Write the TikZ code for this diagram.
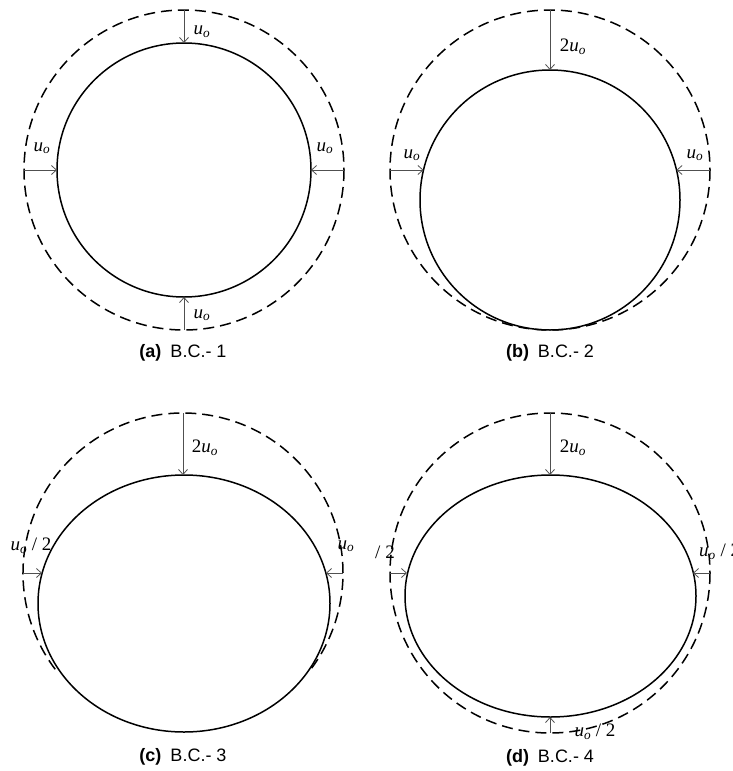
\documentclass[tikz,border=0pt]{standalone}
\usepackage{fontspec}
\setsansfont{Liberation Sans}
\newfontfamily\timesfont{Liberation Serif}
\usetikzlibrary{arrows.meta,calc}
\definecolor{ArrowGrey}{HTML}{505050}
\newcommand{\uo}{\textit{u}\textsubscript{\textit{o}}}
\tikzset{
  lining/.style={draw=black,line width=1.5pt},
  ground/.style={draw=black,line width=1.5pt,dash pattern=on 11pt off 6pt},
  dispflow/.style={-{Straight Barb[length=5pt,width=9pt]},draw=ArrowGrey,line width=0.8pt},
  ulabel/.style={font=\timesfont\fontsize{19}{19}\selectfont,inner sep=0pt},
  caption/.style={font=\sffamily\fontsize{18}{18}\selectfont,inner sep=0pt}
}

\begin{document}
\begin{tikzpicture}[x=1pt,y=-1pt]
  \useasboundingbox (0,0) rectangle (732,771);

  % (a) uniform convergence
  \draw[ground] (184,170) circle[radius=160];
  \draw[lining] (184,170) circle[radius=127];
  \coordinate (a-top-o) at (184,10);   \coordinate (a-top-i) at (184,43);
  \coordinate (a-bot-o) at (184,330);  \coordinate (a-bot-i) at (184,297);
  \coordinate (a-lft-o) at (24,170);   \coordinate (a-lft-i) at (57,170);
  \coordinate (a-rgt-o) at (344,170);  \coordinate (a-rgt-i) at (311,170);
  \draw[dispflow] (a-top-o) -- (a-top-i);
  \draw[dispflow] (a-bot-o) -- (a-bot-i);
  \draw[dispflow] (a-lft-o) -- (a-lft-i);
  \draw[dispflow] (a-rgt-o) -- (a-rgt-i);
  \node[ulabel] (a-top-l) at (202,32) {\uo};
  \node[ulabel] (a-lft-l) at (42,148) {\uo};
  \node[ulabel] (a-rgt-l) at (325,148) {\uo};
  \node[ulabel] (a-bot-l) at (202,315) {\uo};
  \node[caption] (a-cap) at (183,353) {\textbf{(a)}\enspace B.C.- 1};

  % (b) crown settlement, invert fixed
  \draw[ground] (550,170) circle[radius=160];
  \draw[lining] (550,200) circle[radius=130];
  \coordinate (b-top-o) at (550,10);   \coordinate (b-top-i) at (550,70);
  \coordinate (b-lft-o) at (390,170);  \coordinate (b-lft-i) at (423.5,170);
  \coordinate (b-rgt-o) at (710,170);  \coordinate (b-rgt-i) at (676.5,170);
  \draw[dispflow] (b-top-o) -- (b-top-i);
  \draw[dispflow] (b-lft-o) -- (b-lft-i);
  \draw[dispflow] (b-rgt-o) -- (b-rgt-i);
  \node[ulabel] (b-top-l) at (573,47) {2\uo};
  \node[ulabel] (b-lft-l) at (412,155) {\uo};
  \node[ulabel] (b-rgt-l) at (695,155) {\uo};
  \node[caption] (b-cap) at (550,353) {\textbf{(b)}\enspace B.C.- 2};

  % (c) ovalling, invert fixed
  \draw[ground] (183,573) ++(143:160) arc[start angle=143,end angle=397,radius=160];
  \draw[lining] (184,603.5) ellipse[x radius=146,y radius=128.5];
  \coordinate (c-top-o) at (183,413);  \coordinate (c-top-i) at (183,475);
  \coordinate (c-lft-o) at (23,573);   \coordinate (c-lft-i) at (42,573);
  \coordinate (c-rgt-o) at (343,573);  \coordinate (c-rgt-i) at (326,573);
  \draw[dispflow] (c-top-o) -- (c-top-i);
  \draw[dispflow] (c-lft-o) -- (c-lft-i);
  \draw[dispflow] (c-rgt-o) -- (c-rgt-i);
  \node[ulabel] (c-top-l) at (205,448) {2\uo};
  \node[ulabel] (c-lft-l) at (31,546) {\uo{} / 2};
  \node[ulabel] (c-rgt-l) at (346,546) {\uo};
  \node[caption] (c-cap) at (183,757) {\textbf{(c)}\enspace B.C.- 3};

  % (d) ovalling with invert heave
  \draw[ground] (550,573) circle[radius=160];
  \draw[lining] (550.5,596) ellipse[x radius=145.5,y radius=121];
  \coordinate (d-top-o) at (550,413);  \coordinate (d-top-i) at (550,475);
  \coordinate (d-bot-o) at (550,733);  \coordinate (d-bot-i) at (550,717);
  \coordinate (d-lft-o) at (390,573);  \coordinate (d-lft-i) at (407,573);
  \coordinate (d-rgt-o) at (710,573);  \coordinate (d-rgt-i) at (693,573);
  \draw[dispflow] (d-top-o) -- (d-top-i);
  \draw[dispflow] (d-bot-o) -- (d-bot-i);
  \draw[dispflow] (d-lft-o) -- (d-lft-i);
  \draw[dispflow] (d-rgt-o) -- (d-rgt-i);
  \node[ulabel] (d-top-l) at (573,448) {2\uo};
  \node[ulabel] (d-lft-l) at (385,552) {/ 2};
  \node[ulabel,anchor=west] (d-rgt-l) at (699,552) {\uo{} / 2};
  \node[ulabel] (d-bot-l) at (595,732) {\uo{} / 2};
  \node[caption] (d-cap) at (550,758) {\textbf{(d)}\enspace B.C.- 4};
\end{tikzpicture}
\end{document}
